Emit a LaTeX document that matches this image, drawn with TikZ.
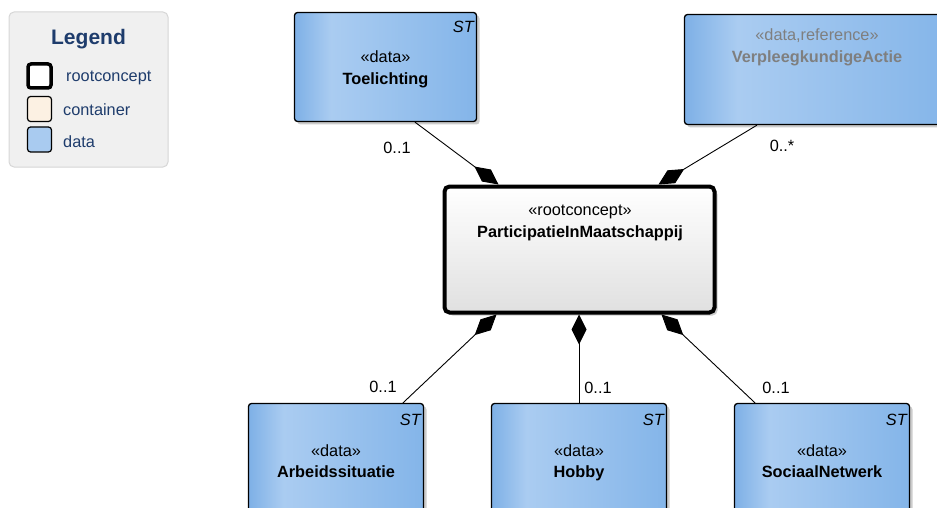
\documentclass[tikz,border=0pt]{standalone}
\usepackage{fontspec}
\setmainfont{Liberation Sans}
\usetikzlibrary{arrows.meta,shadows,calc}
\definecolor{dleft}{HTML}{7EB0E6}
\definecolor{dlight}{HTML}{AACCF1}
\definecolor{dright}{HTML}{84B5E9}
\definecolor{legbg}{HTML}{F0F0F0}
\definecolor{legdraw}{HTML}{D6D6D6}
\definecolor{legtext}{HTML}{1E3C6C}
\definecolor{contfill}{HTML}{FCF1E3}
\definecolor{datafill}{HTML}{A9CBF0}
\definecolor{rootgray}{HTML}{E0E0E0}
\definecolor{reftext}{HTML}{7F7F7F}
\pgfdeclarehorizontalshading{databox}{100bp}{color(0bp)=(dleft); color(25bp)=(dleft); color(35bp)=(dlight); color(75bp)=(dright); color(100bp)=(dright)}
\newcommand{\fsz}{\fontsize{16.3}{19}\selectfont}
\newcommand{\fleg}{\fontsize{21}{25}\selectfont}
\begin{document}
\begin{tikzpicture}[x=1pt,y=-1pt,
  databox/.style={draw=black, line width=1.3pt, rounded corners=3pt, minimum width=182pt, minimum height=109pt, inner sep=0pt, shading=databox, drop shadow={shadow xshift=3pt, shadow yshift=-3pt, fill=black!20, opacity=1}},
  rootbox/.style={draw=black, line width=4pt, rounded corners=5pt, minimum width=270pt, minimum height=126pt, inner sep=0pt, top color=white, bottom color=rootgray, drop shadow={shadow xshift=3pt, shadow yshift=-3pt, fill=black!20, opacity=1}},
  txt/.style={font=\fsz, inner sep=0pt, anchor=base},
  bold/.style={font=\fsz\bfseries, inner sep=0pt, anchor=base},
  sttxt/.style={font=\fsz\itshape, inner sep=0pt, anchor=base east},
  mult/.style={font=\fsz, inner sep=0pt},
  conn/.style={draw=black, line width=0.9pt, -{Diamond[length=30pt,width=15pt]}},
  legtxt/.style={font=\fsz, text=legtext, inner sep=0pt, anchor=base west}
]
\useasboundingbox (0,0) rectangle (937,508);
\clip (0,0) rectangle (937,508);

% legend
\node[draw=legdraw, fill=legbg, rounded corners=5pt, line width=1pt, minimum width=159pt, minimum height=155pt, inner sep=0pt] (legend) at (88.5,89.5) {};
\node[font=\fleg\bfseries, text=legtext, inner sep=0pt, anchor=base] (legtitle) at (88.5,44.5) {Legend};
\node[draw=black, fill=white, line width=3.5pt, rounded corners=3pt, minimum width=23pt, minimum height=24pt, inner sep=0pt] (lroot) at (39.5,76) {};
\node[legtxt] (lroott) at (66,81.5) {rootconcept};
\node[draw=black, fill=contfill, line width=1.2pt, rounded corners=3pt, minimum width=24pt, minimum height=25pt, inner sep=0pt] (lcont) at (39.5,109) {};
\node[legtxt] (lcontt) at (63,116) {container};
\node[draw=black, fill=datafill, line width=1.2pt, rounded corners=3pt, minimum width=24pt, minimum height=25pt, inner sep=0pt] (ldata) at (39.5,139.5) {};
\node[legtxt] (ldatat) at (63,147) {data};

% boxes
\node[databox] (toel) at (385.5,67) {};
\node[txt] (toels) at (385.5,63) {«data»};
\node[bold] (toeln) at (385.5,84.5) {Toelichting};
\node[sttxt] (toelst) at (474,32.5) {ST};

\node[databox, minimum width=265pt, minimum height=110pt] (verp) at (817,69.5) {};
\node[txt, text=reftext] (verps) at (817,40.5) {«data,reference»};
\node[bold, text=reftext] (verpn) at (817,62.5) {VerpleegkundigeActie};

\node[rootbox] (root) at (579.5,249.5) {};
\node[txt] (roots) at (580,215.5) {«rootconcept»};
\node[bold] (rootn) at (580,237) {ParticipatieInMaatschappij};

\node[databox, minimum width=175pt] (arb) at (336,458) {};
\node[txt] (arbs) at (336,456.5) {«data»};
\node[bold] (arbn) at (336,477) {Arbeidssituatie};
\node[sttxt] (arbst) at (421,425.5) {ST};

\node[databox, minimum width=175pt] (hob) at (579,458) {};
\node[txt] (hobs) at (579,456.5) {«data»};
\node[bold] (hobn) at (579,477) {Hobby};
\node[sttxt] (hobst) at (664,425.5) {ST};

\node[databox, minimum width=175pt] (soc) at (822,458) {};
\node[txt] (socs) at (822,456.5) {«data»};
\node[bold] (socn) at (822,477) {SociaalNetwerk};
\node[sttxt] (socst) at (907,425.5) {ST};

% connectors
\draw[conn] ([xshift=29.5pt]toel.south) -- ($(root.north west)+(56,0)$);
\draw[conn] ([xshift=-60pt]verp.south) -- ($(root.north east)+(-58,0)$);
\draw[conn] ([xshift=67pt]arb.north) -- ($(root.south west)+(54,0)$);
\draw[conn] (hob.north) -- (hob.north |- root.south);
\draw[conn] ([xshift=-67pt]soc.north) -- ($(root.south east)+(-55,0)$);

% multiplicities
\node[mult] (m1) at (397,148) {0..1};
\node[mult] (m2) at (782,146) {0..*};
\node[mult] (m3) at (383,387) {0..1};
\node[mult] (m4) at (598,388) {0..1};
\node[mult] (m5) at (776,388) {0..1};
\end{tikzpicture}
\end{document}
